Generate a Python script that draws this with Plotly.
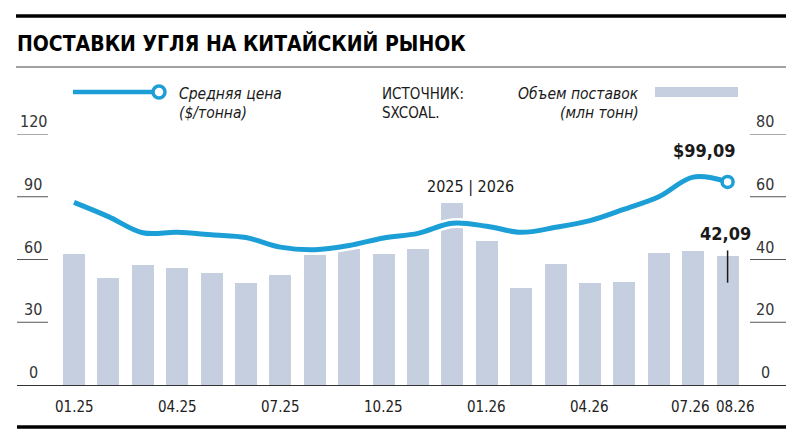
import plotly.graph_objects as go

# data
months = ['01.25', '02.25', '03.25', '04.25', '05.25', '06.25', '07.25', '08.25',
          '09.25', '10.25', '11.25', '12.25', '01.26', '02.26', '03.26', '04.26',
          '05.26', '06.26', '07.26', '08.26']
volume = [41.6, 34.1, 38.4, 37.4, 35.7, 32.5, 35.2, 41.4, 43.3, 41.6,
          43.4, 58.1, 46.0, 30.9, 38.6, 32.5, 32.9, 42.1, 42.8, 41.1]
price = [87.3, 80.5, 72.8, 73.0, 71.8, 70.5, 65.9, 64.7, 66.7, 70.3,
         72.5, 77.3, 75.9, 73.0, 75.4, 78.6, 84.1, 90.0, 99.4, 97.1]
tick_months = ['01.25', '04.25', '07.25', '10.25', '01.26', '04.26', '07.26', '08.26']
price_ticks = [0, 30, 60, 90, 120]
volume_ticks = [0, 20, 40, 60, 80]
last_price_label = '$99,09'
last_volume_label = '42,09'

BLUE = '#1c9fd6'
BAR = '#c6cfe0'
INK = '#1a1a1a'
NARROW = 'Liberation Sans Narrow, DejaVu Sans Condensed, Arial Narrow, sans-serif'

# the page has an 8px body margin, so the figure is 784x430 and starts at (8, 8)
OFF = 8
W, H = 800 - 2 * OFF, 446 - 2 * OFF
# plot area in reference pixels
L, R, T, B = 17, 786, 134, 385


def px(x):
    return (x - L) / (R - L)


def py(y):
    return (B - y) / (B - T)


fig = go.Figure()

fig.add_trace(go.Bar(
    x=months, y=volume, yaxis='y',
    marker=dict(color=BAR, line=dict(width=0)),
    width=0.64, hoverinfo='skip'
))

# white halo under the price line
fig.add_trace(go.Scatter(
    x=months, y=price, yaxis='y2', mode='lines',
    line=dict(color='white', width=10, shape='spline', smoothing=1.0),
    hoverinfo='skip'
))
fig.add_trace(go.Scatter(
    x=months, y=price, yaxis='y2', mode='lines',
    line=dict(color=BLUE, width=5, shape='spline', smoothing=1.0)
))
fig.add_trace(go.Scatter(
    x=[months[-1]], y=[price[-1]], yaxis='y2', mode='markers',
    marker=dict(symbol='circle', size=11, color='white',
                line=dict(color=BLUE, width=3.5))
))

shapes = []
annotations = []

# rules: top thick, under title, bottom thick
shapes.append(dict(type='line', xref='paper', yref='paper',
                   x0=px(16), x1=px(786), y0=py(16), y1=py(16),
                   line=dict(color='black', width=3.5)))
shapes.append(dict(type='line', xref='paper', yref='paper',
                   x0=px(16), x1=px(786), y0=py(67), y1=py(67),
                   line=dict(color='#444444', width=1)))
shapes.append(dict(type='line', xref='paper', yref='paper',
                   x0=px(17), x1=px(786), y0=py(427), y1=py(427),
                   line=dict(color='black', width=3.5)))

tick_font = dict(family=NARROW, size=16, color='#333333')

# short gridlines + labels on both sides
for t in price_ticks:
    if t > 0:
        shapes.append(dict(type='line', xref='paper', yref='y2',
                           x0=px(17), x1=px(48), y0=t, y1=t,
                           line=dict(color='#555555', width=1)))
    annotations.append(dict(xref='paper', yref='y2', x=px(33), y=t, text=str(t),
                            showarrow=False, xanchor='center', yanchor='bottom',
                            yshift=1, font=tick_font))
for t in volume_ticks:
    if t > 0:
        shapes.append(dict(type='line', xref='paper', yref='y',
                           x0=px(750), x1=px(786), y0=t, y1=t,
                           line=dict(color='#555555', width=1)))
    annotations.append(dict(xref='paper', yref='y', x=px(765), y=t, text=str(t),
                            showarrow=False, xanchor='center', yanchor='bottom',
                            yshift=1, font=tick_font))

# month labels under the axis, placed by the category scale;
# the last two are nudged apart like in the original
nudge = {'07.26': -3, '08.26': 8}
for m in tick_months:
    annotations.append(dict(xref='x', yref='paper', x=months.index(m), y=py(407),
                            text=m, showarrow=False, xanchor='center',
                            yanchor='middle', xshift=nudge.get(m, 0),
                            font=dict(family=NARROW, size=15, color='#222222')))

# marker tick on the last bar (category index, since labels look numeric)
last = len(months) - 1
shapes.append(dict(type='line', xref='x', yref='y',
                   x0=last, x1=last, y0=volume[-1] - 8.5, y1=volume[-1] + 1.8,
                   line=dict(color=INK, width=1.5)))

# legend: line with open circle
shapes.append(dict(type='line', xref='paper', yref='paper',
                   x0=px(73), x1=px(153), y0=py(92), y1=py(92),
                   line=dict(color=BLUE, width=4.5)))
shapes.append(dict(type='circle', xref='paper', yref='paper',
                   xsizemode='pixel', ysizemode='pixel',
                   xanchor=px(159), yanchor=py(92), x0=-6, x1=6, y0=-6, y1=6,
                   fillcolor='white', line=dict(color=BLUE, width=3.5)))
# legend: bar swatch
shapes.append(dict(type='rect', xref='paper', yref='paper',
                   x0=px(655), x1=px(738), y0=py(97), y1=py(87),
                   fillcolor=BAR, line=dict(width=0)))

legend_font = dict(family=NARROW, size=15.5, color=INK)


def txt(x, y, s, xanchor='left', font=None):
    annotations.append(dict(xref='paper', yref='paper', x=px(x), y=py(y), text=s,
                            showarrow=False, xanchor=xanchor, yanchor='middle',
                            font=font or legend_font))


txt(177, 94, '<i>Средняя цена</i>')
txt(177, 113, '<i>($/тонна)</i>')
txt(380, 94, 'ИСТОЧНИК:', font=dict(family=NARROW, size=15, color=INK))
txt(380, 113, 'SXCOAL.', font=dict(family=NARROW, size=15, color=INK))
txt(641, 94, '<i>Объем поставок</i>', xanchor='right')
txt(641, 113, '<i>(млн тонн)</i>', xanchor='right')

# title
txt(15, 43, '<b>ПОСТАВКИ УГЛЯ НА КИТАЙСКИЙ РЫНОК</b>',
    font=dict(family=NARROW, size=21, color='black'))

# year divider
txt(470, 186, '2025 | 2026', xanchor='center',
    font=dict(family=NARROW, size=16, color=INK))

# value callouts
txt(704, 150, '<b>' + last_price_label + '</b>', xanchor='center',
    font=dict(family=NARROW, size=18, color=INK))
txt(725, 233, '<b>' + last_volume_label + '</b>', xanchor='center',
    font=dict(family=NARROW, size=18, color=INK))

n = len(months)
fig.update_layout(
    width=W, height=H,
    margin=dict(l=L - OFF, r=W - (R - OFF), t=T - OFF, b=H - (B - OFF)),
    paper_bgcolor='white', plot_bgcolor='white',
    showlegend=False, bargap=0,
    xaxis=dict(type='category', range=[-1.657, n - 1 + 1.698],
               showticklabels=False,
               showgrid=False, zeroline=False, showline=True,
               linecolor='#333333', linewidth=1, ticks=''),
    yaxis=dict(range=[0, 80], visible=False, fixedrange=True),
    yaxis2=dict(range=[0, 120], overlaying='y', side='right',
                visible=False, fixedrange=True),
    shapes=shapes, annotations=annotations,
)

fig.write_html("out.html")
